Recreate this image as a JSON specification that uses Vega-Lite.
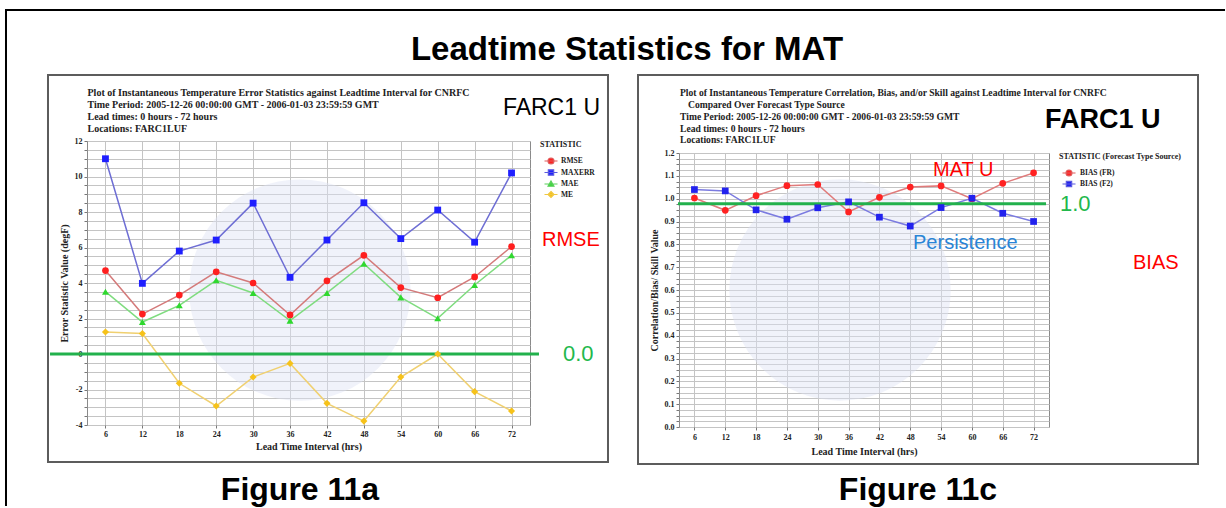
{
  "$schema": "https://vega.github.io/schema/vega-lite/v6.json",
  "background": "white",
  "padding": {"left": 4, "top": 7, "right": 0, "bottom": 0},
  "autosize": {"type": "pad"},
  "title": {"text": "Leadtime Statistics for MAT", "font": "Liberation Sans", "fontSize": 33, "fontWeight": "bold", "color": "#000000", "anchor": "middle", "frame": "bounds", "offset": -59.7, "dx": 12},
  "config": {
    "view": {"stroke": null},
    "axis": {"labelFont": "Liberation Serif", "labelFontWeight": "bold", "labelFontSize": 8, "labelColor": "#222222", "titleFont": "Liberation Serif", "titleFontWeight": "bold", "titleFontSize": 10, "titleColor": "#222222", "gridColor": "#c4c4c4", "gridOpacity": 1, "gridWidth": 1, "domain": false, "tickColor": "#777777", "tickSize": 3, "labelPadding": 2, "labelOverlap": false, "labelFlush": false}
  },
  "datasets": {
    "left": [
      {"lead": 6, "stat": "RMSE", "value": 4.7}, {"lead": 12, "stat": "RMSE", "value": 2.25}, {"lead": 18, "stat": "RMSE", "value": 3.32}, {"lead": 24, "stat": "RMSE", "value": 4.63}, {"lead": 30, "stat": "RMSE", "value": 4.0}, {"lead": 36, "stat": "RMSE", "value": 2.2}, {"lead": 42, "stat": "RMSE", "value": 4.12}, {"lead": 48, "stat": "RMSE", "value": 5.56}, {"lead": 54, "stat": "RMSE", "value": 3.74}, {"lead": 60, "stat": "RMSE", "value": 3.17}, {"lead": 66, "stat": "RMSE", "value": 4.34}, {"lead": 72, "stat": "RMSE", "value": 6.05},
      {"lead": 6, "stat": "MAXERR", "value": 11.0}, {"lead": 12, "stat": "MAXERR", "value": 3.98}, {"lead": 18, "stat": "MAXERR", "value": 5.8}, {"lead": 24, "stat": "MAXERR", "value": 6.42}, {"lead": 30, "stat": "MAXERR", "value": 8.5}, {"lead": 36, "stat": "MAXERR", "value": 4.32}, {"lead": 42, "stat": "MAXERR", "value": 6.42}, {"lead": 48, "stat": "MAXERR", "value": 8.52}, {"lead": 54, "stat": "MAXERR", "value": 6.5}, {"lead": 60, "stat": "MAXERR", "value": 8.11}, {"lead": 66, "stat": "MAXERR", "value": 6.3}, {"lead": 72, "stat": "MAXERR", "value": 10.2},
      {"lead": 6, "stat": "MAE", "value": 3.51}, {"lead": 12, "stat": "MAE", "value": 1.8}, {"lead": 18, "stat": "MAE", "value": 2.74}, {"lead": 24, "stat": "MAE", "value": 4.15}, {"lead": 30, "stat": "MAE", "value": 3.44}, {"lead": 36, "stat": "MAE", "value": 1.88}, {"lead": 42, "stat": "MAE", "value": 3.44}, {"lead": 48, "stat": "MAE", "value": 5.09}, {"lead": 54, "stat": "MAE", "value": 3.19}, {"lead": 60, "stat": "MAE", "value": 2.01}, {"lead": 66, "stat": "MAE", "value": 3.89}, {"lead": 72, "stat": "MAE", "value": 5.56},
      {"lead": 6, "stat": "ME", "value": 1.24}, {"lead": 12, "stat": "ME", "value": 1.15}, {"lead": 18, "stat": "ME", "value": -1.65}, {"lead": 24, "stat": "ME", "value": -2.93}, {"lead": 30, "stat": "ME", "value": -1.3}, {"lead": 36, "stat": "ME", "value": -0.53}, {"lead": 42, "stat": "ME", "value": -2.78}, {"lead": 48, "stat": "ME", "value": -3.78}, {"lead": 54, "stat": "ME", "value": -1.3}, {"lead": 60, "stat": "ME", "value": 0.0}, {"lead": 66, "stat": "ME", "value": -2.12}, {"lead": 72, "stat": "ME", "value": -3.21}
    ],
    "right": [
      {"lead": 6, "src": "BIAS (FR)", "value": 1.003}, {"lead": 12, "src": "BIAS (FR)", "value": 0.949}, {"lead": 18, "src": "BIAS (FR)", "value": 1.013}, {"lead": 24, "src": "BIAS (FR)", "value": 1.057}, {"lead": 30, "src": "BIAS (FR)", "value": 1.062}, {"lead": 36, "src": "BIAS (FR)", "value": 0.942}, {"lead": 42, "src": "BIAS (FR)", "value": 1.006}, {"lead": 48, "src": "BIAS (FR)", "value": 1.051}, {"lead": 54, "src": "BIAS (FR)", "value": 1.056}, {"lead": 60, "src": "BIAS (FR)", "value": 1.0}, {"lead": 66, "src": "BIAS (FR)", "value": 1.067}, {"lead": 72, "src": "BIAS (FR)", "value": 1.113},
      {"lead": 6, "src": "BIAS (F2)", "value": 1.04}, {"lead": 12, "src": "BIAS (F2)", "value": 1.034}, {"lead": 18, "src": "BIAS (F2)", "value": 0.951}, {"lead": 24, "src": "BIAS (F2)", "value": 0.91}, {"lead": 30, "src": "BIAS (F2)", "value": 0.96}, {"lead": 36, "src": "BIAS (F2)", "value": 0.986}, {"lead": 42, "src": "BIAS (F2)", "value": 0.919}, {"lead": 48, "src": "BIAS (F2)", "value": 0.88}, {"lead": 54, "src": "BIAS (F2)", "value": 0.961}, {"lead": 60, "src": "BIAS (F2)", "value": 1.002}, {"lead": 66, "src": "BIAS (F2)", "value": 0.936}, {"lead": 72, "src": "BIAS (F2)", "value": 0.9}
    ]
  },
  "bounds": "full",
  "spacing": -2,
  "resolve": {
    "scale": {"x": "independent", "y": "independent", "color": "independent", "shape": "independent", "size": "independent", "stroke": "independent"},
    "legend": {"color": "independent", "shape": "independent", "size": "independent", "stroke": "independent"}
  },
  "hconcat": [
    {
      "spacing": 0,
      "resolve": {
        "scale": {"x": "independent", "y": "independent", "color": "independent", "shape": "independent", "size": "independent", "stroke": "independent"},
        "legend": {"color": "independent", "shape": "independent", "size": "independent", "stroke": "independent"}
      },
      "vconcat": [
        {"width": 10, "height": 1, "data": {"values": []}, "mark": {"type": "point", "opacity": 0}, "view": {"stroke": null}},
        {
          "width": 443,
          "height": 284,
          "view": {"stroke": "#8a8a8a"},
          "resolve": {
            "scale": {"color": "independent", "shape": "independent", "size": "independent", "stroke": "independent"},
            "legend": {"color": "independent", "shape": "independent", "size": "independent", "stroke": "independent"}
          },
          "layer": [
            {
              "data": {"values": [{"t": "w"}]},
              "mark": {"type": "point", "shape": "circle", "filled": true, "fill": "#dde3f5", "opacity": 0.45, "size": 49000},
              "encoding": {
                "x": {"datum": 37.6, "type": "quantitative", "scale": {"domain": [3, 75], "nice": false, "zero": false}},
                "y": {"datum": 3.6, "type": "quantitative", "scale": {"domain": [-4, 12], "nice": false, "zero": false}}
              }
            },
            {
              "data": {"values": [{"t": "frame"}]},
              "mark": {"type": "rect", "fill": "transparent", "stroke": "#5c5c5c", "strokeWidth": 2},
              "encoding": {
                "x": {"datum": -3.339, "type": "quantitative", "scale": {"domain": [3, 75], "nice": false, "zero": false}},
                "x2": {"datum": 87.677},
                "y": {"datum": 15.718, "type": "quantitative", "scale": {"domain": [-4, 12], "nice": false, "zero": false}},
                "y2": {"datum": -6.085}
              }
            },
            {
              "data": {"values": [{"t": "border"}]},
              "mark": {"type": "rule", "stroke": "#000000", "strokeWidth": 2, "strokeCap": "square"},
              "encoding": {
                "x": {"datum": -10.165, "type": "quantitative", "scale": {"domain": [3, 75], "nice": false, "zero": false}},
                "y": {"datum": 19.38, "type": "quantitative", "scale": {"domain": [-4, 12], "nice": false, "zero": false}},
                "y2": {"datum": -8.507}
              }
            },
            {
              "data": {"values": [{"t": "top"}]},
              "mark": {"type": "rule", "stroke": "#000000", "strokeWidth": 2, "strokeCap": "square"},
              "encoding": {
                "x": {"datum": -10.165, "type": "quantitative", "scale": {"domain": [3, 75], "nice": false, "zero": false}},
                "x2": {"datum": 92.228},
                "y": {"datum": 19.38, "type": "quantitative", "scale": {"domain": [-4, 12], "nice": false, "zero": false}}
              }
            },
            {
              "data": {"values": [{"t": ["Plot of Instantaneous Temperature Error Statistics against Leadtime Interval for CNRFC", "Time Period: 2005-12-26 00:00:00 GMT - 2006-01-03 23:59:59 GMT", "Lead times: 0 hours - 72 hours", "Locations: FARC1LUF"]}]},
              "mark": {"type": "text", "align": "left", "baseline": "alphabetic", "font": "Liberation Serif", "fontWeight": "bold", "fontSize": 10, "lineHeight": 12, "color": "#222222"},
              "encoding": {
                "x": {"datum": 3.08, "type": "quantitative", "scale": {"domain": [3, 75], "nice": false, "zero": false}},
                "y": {"datum": 14.535, "type": "quantitative", "scale": {"domain": [-4, 12], "nice": false, "zero": false}},
                "text": {"field": "t"}
              }
            },
            {
              "data": {"values": [{"t": "FARC1 U"}]},
              "mark": {"type": "text", "align": "right", "baseline": "middle", "font": "Liberation Sans", "fontSize": 23, "color": "#000000"},
              "encoding": {
                "x": {"datum": 86.38, "type": "quantitative", "scale": {"domain": [3, 75], "nice": false, "zero": false}},
                "y": {"datum": 13.86, "type": "quantitative", "scale": {"domain": [-4, 12], "nice": false, "zero": false}},
                "text": {"field": "t"}
              }
            },
            {
              "data": {"name": "left"},
              "mark": {"type": "line", "strokeWidth": 1.5},
              "encoding": {
                "x": {"field": "lead", "type": "quantitative", "scale": {"domain": [3, 75], "nice": false, "zero": false}, "axis": {"values": [6, 12, 18, 24, 30, 36, 42, 48, 54, 60, 66, 72], "tickCount": 500, "format": "d", "title": "Lead Time Interval (hrs)", "titlePadding": 3, "labelAngle": 0, "grid": true, "labelOverlap": false, "labelFlush": false}},
                "y": {"field": "value", "type": "quantitative", "scale": {"domain": [-4, 12], "nice": false, "zero": false}, "axis": {"values": [-4, -3.5, -3, -2.5, -2, -1.5, -1, -0.5, 0, 0.5, 1, 1.5, 2, 2.5, 3, 3.5, 4, 4.5, 5, 5.5, 6, 6.5, 7, 7.5, 8, 8.5, 9, 9.5, 10, 10.5, 11, 11.5, 12], "tickCount": 500, "labelExpr": "datum.value % 2 === 0 ? '' + datum.value : ''", "title": "Error Statistic Value (degF)", "titlePadding": 5, "grid": true, "labelOverlap": false, "labelFlush": false}},
                "stroke": {"field": "stat", "type": "nominal", "scale": {"domain": ["RMSE", "MAXERR", "MAE", "ME"], "range": ["#d47a7a", "#6e6ed4", "#7fdc7f", "#f0d070"]}, "legend": null}
              }
            },
            {
              "data": {"values": [{"t": "zero"}]},
              "mark": {"type": "rule", "stroke": "#22b14c", "strokeWidth": 3},
              "encoding": {
                "x": {"datum": -3.01, "type": "quantitative", "scale": {"domain": [3, 75], "nice": false, "zero": false}},
                "x2": {"datum": 76.46},
                "y": {"datum": 0, "type": "quantitative", "scale": {"domain": [-4, 12], "nice": false, "zero": false}}
              }
            },
            {
              "data": {"name": "left"},
              "mark": {"type": "point", "filled": true, "opacity": 1},
              "encoding": {
                "x": {"field": "lead", "type": "quantitative", "scale": {"domain": [3, 75], "nice": false, "zero": false}},
                "y": {"field": "value", "type": "quantitative", "scale": {"domain": [-4, 12], "nice": false, "zero": false}},
                "color": {"field": "stat", "type": "nominal", "scale": {"domain": ["RMSE", "MAXERR", "MAE", "ME"], "range": ["#ff1f1f", "#1f1fff", "#2fd82f", "#f6c21a"]}, "legend": null},
                "shape": {"field": "stat", "type": "nominal", "scale": {"domain": ["RMSE", "MAXERR", "MAE", "ME"], "range": ["circle", "square", "triangle-up", "diamond"]}, "legend": null},
                "size": {"field": "stat", "type": "nominal", "scale": {"domain": ["RMSE", "MAXERR", "MAE", "ME"], "range": [45, 50, 38, 26]}, "legend": null}
              }
            },
            {
              "data": {"name": "left"},
              "transform": [{"filter": "false"}],
              "mark": {"type": "point", "filled": true, "size": 35, "strokeWidth": 1.2, "opacity": 1},
              "encoding": {
                "color": {"field": "stat", "type": "nominal", "scale": {"domain": ["RMSE", "MAXERR", "MAE", "ME"], "range": ["#ff1f1f", "#1f1fff", "#2fd82f", "#f6c21a"]},
                  "legend": {"title": "STATISTIC", "orient": "right", "offset": 10, "padding": 0, "titleFont": "Liberation Serif", "titleFontSize": 8, "titleFontWeight": "bold", "titleColor": "#222222", "titlePadding": 8, "labelFont": "Liberation Serif", "labelFontSize": 7.5, "labelFontWeight": "bold", "labelColor": "#222222", "labelOffset": 6, "symbolSize": 35, "symbolOffset": 7, "symbolStrokeWidth": 1.2, "symbolOpacity": 1, "rowPadding": -0.5}},
                "shape": {"field": "stat", "type": "nominal", "scale": {"domain": ["RMSE", "MAXERR", "MAE", "ME"], "range": ["M-2.2,0H2.2M-1,0A1,1,0,1,1,1,0A1,1,0,1,1,-1,0Z", "M-2.2,0H2.2M-0.9,-0.9H0.9V0.9H-0.9Z", "M-2.2,0H2.2M0,-1L1,0.75H-1Z", "M-2.2,0H2.2M0,-1L1,0L0,1L-1,0Z"]}},
                "stroke": {"field": "stat", "type": "nominal", "scale": {"domain": ["RMSE", "MAXERR", "MAE", "ME"], "range": ["#e05a5a", "#5a5ae0", "#5ad05a", "#f0c840"]}}
              }
            },
            {
              "data": {"values": [{"t": "RMSE"}]},
              "mark": {"type": "text", "align": "left", "baseline": "middle", "font": "Liberation Sans", "fontSize": 20, "color": "#ff0000"},
              "encoding": {
                "x": {"datum": 76.95, "type": "quantitative", "scale": {"domain": [3, 75], "nice": false, "zero": false}},
                "y": {"datum": 6.423, "type": "quantitative", "scale": {"domain": [-4, 12], "nice": false, "zero": false}},
                "text": {"field": "t"}
              }
            },
            {
              "data": {"values": [{"t": "0.0"}]},
              "mark": {"type": "text", "align": "left", "baseline": "middle", "font": "Liberation Sans", "fontSize": 22, "color": "#22b84c"},
              "encoding": {
                "x": {"datum": 80.36, "type": "quantitative", "scale": {"domain": [3, 75], "nice": false, "zero": false}},
                "y": {"datum": 0, "type": "quantitative", "scale": {"domain": [-4, 12], "nice": false, "zero": false}},
                "text": {"field": "t"}
              }
            },
            {
              "data": {"values": [{"t": "Figure 11a"}]},
              "mark": {"type": "text", "align": "center", "baseline": "alphabetic", "font": "Liberation Sans", "fontWeight": "bold", "fontSize": 32, "color": "#000000"},
              "encoding": {
                "x": {"datum": 37.62, "type": "quantitative", "scale": {"domain": [3, 75], "nice": false, "zero": false}},
                "y": {"datum": -8.225, "type": "quantitative", "scale": {"domain": [-4, 12], "nice": false, "zero": false}},
                "text": {"field": "t"}
              }
            }
          ]
        }
      ]
    },
    {
      "spacing": 0,
      "resolve": {
        "scale": {"x": "independent", "y": "independent", "color": "independent", "shape": "independent", "size": "independent", "stroke": "independent"},
        "legend": {"color": "independent", "shape": "independent", "size": "independent", "stroke": "independent"}
      },
      "vconcat": [
        {"width": 10, "height": 1, "data": {"values": []}, "mark": {"type": "point", "opacity": 0}, "view": {"stroke": null}},
        {
          "width": 370,
          "height": 274,
          "view": {"stroke": "#8a8a8a"},
          "resolve": {
            "scale": {"color": "independent", "shape": "independent", "size": "independent", "stroke": "independent"},
            "legend": {"color": "independent", "shape": "independent", "size": "independent", "stroke": "independent"}
          },
          "layer": [
            {
              "data": {"values": [{"t": "w"}]},
              "mark": {"type": "point", "shape": "circle", "filled": true, "fill": "#dde3f5", "opacity": 0.45, "size": 49000},
              "encoding": {
                "x": {"datum": 34.33, "type": "quantitative", "scale": {"domain": [3, 75], "nice": false, "zero": false}},
                "y": {"datum": 0.6, "type": "quantitative", "scale": {"domain": [0, 1.2], "nice": false, "zero": false}}
              }
            },
            {
              "data": {"values": [{"t": "frame"}]},
              "mark": {"type": "rect", "fill": "transparent", "stroke": "#5c5c5c", "strokeWidth": 2},
              "encoding": {
                "x": {"datum": -4.978, "type": "quantitative", "scale": {"domain": [3, 75], "nice": false, "zero": false}},
                "x2": {"datum": 103.996},
                "y": {"datum": 1.5416, "type": "quantitative", "scale": {"domain": [0, 1.2], "nice": false, "zero": false}},
                "y2": {"datum": -0.162}
              }
            },
            {
              "data": {"values": [{"t": "top"}]},
              "mark": {"type": "rule", "stroke": "#000000", "strokeWidth": 2, "strokeCap": "square"},
              "encoding": {
                "x": {"datum": -4.978, "type": "quantitative", "scale": {"domain": [3, 75], "nice": false, "zero": false}},
                "x2": {"datum": 109.055},
                "y": {"datum": 1.8263, "type": "quantitative", "scale": {"domain": [0, 1.2], "nice": false, "zero": false}}
              }
            },
            {
              "data": {"values": [{"t": "Plot of Instantaneous Temperature Correlation, Bias, and/or Skill against Leadtime Interval for CNRFC"}]},
              "mark": {"type": "text", "align": "left", "baseline": "alphabetic", "font": "Liberation Serif", "fontWeight": "bold", "fontSize": 9.6, "color": "#222222"},
              "encoding": {
                "x": {"datum": 3.195, "type": "quantitative", "scale": {"domain": [3, 75], "nice": false, "zero": false}},
                "y": {"datum": 1.4475, "type": "quantitative", "scale": {"domain": [0, 1.2], "nice": false, "zero": false}},
                "text": {"field": "t"}
              }
            },
            {
              "data": {"values": [{"t": "Compared Over Forecast Type Source"}]},
              "mark": {"type": "text", "align": "left", "baseline": "alphabetic", "font": "Liberation Serif", "fontWeight": "bold", "fontSize": 9.6, "color": "#222222"},
              "encoding": {
                "x": {"datum": 4.751, "type": "quantitative", "scale": {"domain": [3, 75], "nice": false, "zero": false}},
                "y": {"datum": 1.3962, "type": "quantitative", "scale": {"domain": [0, 1.2], "nice": false, "zero": false}},
                "text": {"field": "t"}
              }
            },
            {
              "data": {"values": [{"t": ["Time Period: 2005-12-26 00:00:00 GMT - 2006-01-03 23:59:59 GMT", "Lead times: 0 hours - 72 hours", "Locations: FARC1LUF"]}]},
              "mark": {"type": "text", "align": "left", "baseline": "alphabetic", "font": "Liberation Serif", "fontWeight": "bold", "fontSize": 9.6, "lineHeight": 11.7, "color": "#222222"},
              "encoding": {
                "x": {"datum": 3.195, "type": "quantitative", "scale": {"domain": [3, 75], "nice": false, "zero": false}},
                "y": {"datum": 1.345, "type": "quantitative", "scale": {"domain": [0, 1.2], "nice": false, "zero": false}},
                "text": {"field": "t"}
              }
            },
            {
              "data": {"values": [{"t": "FARC1 U"}]},
              "mark": {"type": "text", "align": "left", "baseline": "middle", "font": "Liberation Sans", "fontWeight": "bold", "fontSize": 27, "color": "#000000"},
              "encoding": {
                "x": {"datum": 74.2, "type": "quantitative", "scale": {"domain": [3, 75], "nice": false, "zero": false}},
                "y": {"datum": 1.3445, "type": "quantitative", "scale": {"domain": [0, 1.2], "nice": false, "zero": false}},
                "text": {"field": "t"}
              }
            },
            {
              "data": {"name": "right"},
              "mark": {"type": "line", "strokeWidth": 1.5},
              "encoding": {
                "x": {"field": "lead", "type": "quantitative", "scale": {"domain": [3, 75], "nice": false, "zero": false}, "axis": {"values": [6, 12, 18, 24, 30, 36, 42, 48, 54, 60, 66, 72], "tickCount": 500, "format": "d", "title": "Lead Time Interval (hrs)", "titlePadding": 5, "labelPadding": 3, "labelAngle": 0, "grid": true, "labelOverlap": false, "labelFlush": false}},
                "y": {"field": "value", "type": "quantitative", "scale": {"domain": [0, 1.2], "nice": false, "zero": false}, "axis": {"values": [0, 0.025, 0.05, 0.075, 0.1, 0.125, 0.15, 0.175, 0.2, 0.225, 0.25, 0.275, 0.3, 0.325, 0.35, 0.375, 0.4, 0.425, 0.45, 0.475, 0.5, 0.525, 0.55, 0.575, 0.6, 0.625, 0.65, 0.675, 0.7, 0.725, 0.75, 0.775, 0.8, 0.825, 0.85, 0.875, 0.9, 0.925, 0.95, 0.975, 1, 1.025, 1.05, 1.075, 1.1, 1.125, 1.15, 1.175, 1.2], "tickCount": 500, "labelExpr": "abs(datum.value*10-round(datum.value*10))<0.001 ? format(datum.value,'.1f') : ''", "title": "Correlation/Bias/ Skill Value", "titlePadding": 5, "grid": true, "labelOverlap": false, "labelFlush": false}},
                "stroke": {"field": "src", "type": "nominal", "scale": {"domain": ["BIAS (FR)", "BIAS (F2)"], "range": ["#e07b7b", "#7b7be0"]}, "legend": null}
              }
            },
            {
              "data": {"values": [{"t": "one"}]},
              "mark": {"type": "rule", "stroke": "#22b14c", "strokeWidth": 3},
              "encoding": {
                "x": {"datum": 2.805, "type": "quantitative", "scale": {"domain": [3, 75], "nice": false, "zero": false}},
                "x2": {"datum": 74.42},
                "y": {"datum": 0.978, "type": "quantitative", "scale": {"domain": [0, 1.2], "nice": false, "zero": false}}
              }
            },
            {
              "data": {"name": "right"},
              "mark": {"type": "point", "filled": true, "opacity": 1, "size": 45},
              "encoding": {
                "x": {"field": "lead", "type": "quantitative", "scale": {"domain": [3, 75], "nice": false, "zero": false}},
                "y": {"field": "value", "type": "quantitative", "scale": {"domain": [0, 1.2], "nice": false, "zero": false}},
                "color": {"field": "src", "type": "nominal", "scale": {"domain": ["BIAS (FR)", "BIAS (F2)"], "range": ["#ff2222", "#2222ee"]}, "legend": null},
                "shape": {"field": "src", "type": "nominal", "scale": {"domain": ["BIAS (FR)", "BIAS (F2)"], "range": ["circle", "square"]}, "legend": null}
              }
            },
            {
              "data": {"name": "right"},
              "transform": [{"filter": "false"}],
              "mark": {"type": "point", "filled": true, "size": 35, "strokeWidth": 1.2, "opacity": 1},
              "encoding": {
                "color": {"field": "src", "type": "nominal", "scale": {"domain": ["BIAS (FR)", "BIAS (F2)"], "range": ["#ff2222", "#2222ee"]},
                  "legend": {"title": "STATISTIC (Forecast Type Source)", "orient": "right", "offset": 10, "padding": 0, "titleFont": "Liberation Serif", "titleFontSize": 8, "titleFontWeight": "bold", "titleColor": "#222222", "titlePadding": 8, "titleLimit": 200, "labelFont": "Liberation Serif", "labelFontSize": 7.5, "labelFontWeight": "bold", "labelColor": "#222222", "labelOffset": 7, "symbolSize": 35, "symbolOffset": 6, "symbolStrokeWidth": 1.2, "symbolOpacity": 1, "rowPadding": -1}},
                "shape": {"field": "src", "type": "nominal", "scale": {"domain": ["BIAS (FR)", "BIAS (F2)"], "range": ["M-2.2,0H2.2M-1,0A1,1,0,1,1,1,0A1,1,0,1,1,-1,0Z", "M-2.2,0H2.2M-0.9,-0.9H0.9V0.9H-0.9Z"]}},
                "stroke": {"field": "src", "type": "nominal", "scale": {"domain": ["BIAS (FR)", "BIAS (F2)"], "range": ["#e05a5a", "#5a5ae0"]}}
              }
            },
            {
              "data": {"values": [{"t": "MAT U"}]},
              "mark": {"type": "text", "align": "left", "baseline": "middle", "font": "Liberation Sans", "fontSize": 20, "color": "#ff0000"},
              "encoding": {
                "x": {"datum": 52.43, "type": "quantitative", "scale": {"domain": [3, 75], "nice": false, "zero": false}},
                "y": {"datum": 1.1256, "type": "quantitative", "scale": {"domain": [0, 1.2], "nice": false, "zero": false}},
                "text": {"field": "t"}
              }
            },
            {
              "data": {"values": [{"t": "Persistence"}]},
              "mark": {"type": "text", "align": "left", "baseline": "middle", "font": "Liberation Sans", "fontSize": 20, "color": "#2a84d6"},
              "encoding": {
                "x": {"datum": 48.54, "type": "quantitative", "scale": {"domain": [3, 75], "nice": false, "zero": false}},
                "y": {"datum": 0.8072, "type": "quantitative", "scale": {"domain": [0, 1.2], "nice": false, "zero": false}},
                "text": {"field": "t"}
              }
            },
            {
              "data": {"values": [{"t": "BIAS"}]},
              "mark": {"type": "text", "align": "left", "baseline": "middle", "font": "Liberation Sans", "fontSize": 20, "color": "#ff0000"},
              "encoding": {
                "x": {"datum": 91.35, "type": "quantitative", "scale": {"domain": [3, 75], "nice": false, "zero": false}},
                "y": {"datum": 0.717, "type": "quantitative", "scale": {"domain": [0, 1.2], "nice": false, "zero": false}},
                "text": {"field": "t"}
              }
            },
            {
              "data": {"values": [{"t": "1.0"}]},
              "mark": {"type": "text", "align": "left", "baseline": "middle", "font": "Liberation Sans", "fontSize": 22, "color": "#22b84c"},
              "encoding": {
                "x": {"datum": 77.14, "type": "quantitative", "scale": {"domain": [3, 75], "nice": false, "zero": false}},
                "y": {"datum": 0.975, "type": "quantitative", "scale": {"domain": [0, 1.2], "nice": false, "zero": false}},
                "text": {"field": "t"}
              }
            },
            {
              "data": {"values": [{"t": "Figure 11c"}]},
              "mark": {"type": "text", "align": "center", "baseline": "alphabetic", "font": "Liberation Sans", "fontWeight": "bold", "fontSize": 32, "color": "#000000"},
              "encoding": {
                "x": {"datum": 49.51, "type": "quantitative", "scale": {"domain": [3, 75], "nice": false, "zero": false}},
                "y": {"datum": -0.3197, "type": "quantitative", "scale": {"domain": [0, 1.2], "nice": false, "zero": false}},
                "text": {"field": "t"}
              }
            }
          ]
        }
      ]
    }
  ]
}
